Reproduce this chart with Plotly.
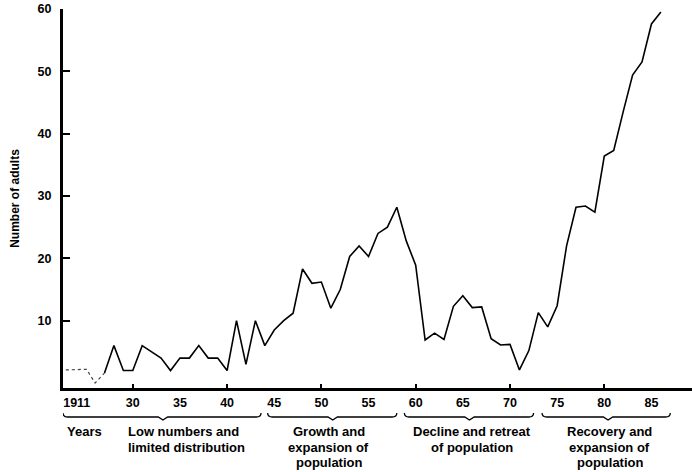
import plotly.graph_objects as go

# Adult counts per year (solid record) and the early sparse record (dotted)
years = list(range(27, 87))
adults = [1.6, 6, 2, 2, 6, 5, 4, 2, 4, 4,
          6, 4, 4, 2, 10, 3, 10, 6, 8.5, 10,
          11.2, 18.3, 16, 16.2, 12, 15, 20.3, 22, 20.3, 24,
          25, 28.2, 22.8, 18.9, 6.9, 8, 7, 12.3, 14, 12.1,
          12.2, 7.1, 6.1, 6.2, 2.1, 5.2, 11.3, 9, 12.4, 22,
          28.2, 28.4, 27.4, 36.4, 37.3, 43.5, 49.4, 51.5, 57.6, 59.5]
early_years = [22.9, 25.1, 26, 27]
early_adults = [2.1, 2.2, 0, 1.6]

# Tick labels on the year axis (the 1911 start sits at a broken-axis position)
tick_pos = [24.06, 30, 35, 40, 45, 50, 55, 60, 65, 70, 75, 80, 85]
tick_text = ["1911", "30", "35", "40", "45", "50", "55", "60", "65", "70", "75", "80", "85"]
decade_ticks = [30, 40, 50, 60, 70, 80]
y_ticks = [10, 20, 30, 40, 50, 60]

# Population phases: brace start, end and centre (years)
phases = [
    (22.6, 43.6, 33.2),
    (44.3, 58.0, 51.2),
    (58.8, 72.5, 65.7),
    (73.4, 87.0, 80.4),
]
# Phase captions: lines, x position (years), horizontal anchor
phase_labels = [
    (["Years"], 22.8, "left"),
    (["Low numbers and", "limited distribution"], 29.3, "left"),
    (["Growth and", "expansion of", "population"], 50.8, "center"),
    (["Decline and retreat", "of population"], 65.95, "center"),
    (["Recovery and", "expansion of", "population"], 80.6, "center"),
]

W, H = 692, 472
M_L, M_R, M_T, M_B = 63, 0, 9, 84
PLOT_H = H - M_T - M_B
FONT = "Liberation Sans, Arial, sans-serif"
LINE_ROWS = [431.5, 447.2, 462.9]


def paper_y(px):
    """Convert a pixel row (from the top of the page) to paper y."""
    return (H - M_B - px) / PLOT_H


fig = go.Figure()
fig.add_trace(go.Scatter(
    x=early_years, y=early_adults, mode="lines",
    line=dict(color="#444444", width=1.2, dash="dot"),
    xaxis="x2", yaxis="y", hoverinfo="skip", showlegend=False,
))
fig.add_trace(go.Scatter(
    x=years, y=adults, mode="lines",
    line=dict(color="black", width=1.6),
    showlegend=False,
))

# Curly braces marking each phase under the axis
shapes = []
for x0, x1, xm in phases:
    yb = paper_y(417)
    yu = paper_y(413)
    yd = paper_y(420)
    d = 0.5
    path = (f"M {x0},{yu} Q {x0},{yb} {x0 + d},{yb} L {xm - d},{yb} "
            f"L {xm},{yd} L {xm + d},{yb} L {x1 - d},{yb} Q {x1},{yb} {x1},{yu}")
    shapes.append(dict(type="path", path=path, xref="x", yref="paper",
                       line=dict(color="black", width=1.3)))

annotations = []
for lines, x, anchor in phase_labels:
    for row, text in zip(LINE_ROWS, lines):
        annotations.append(dict(
            text=text, x=x, y=paper_y(row), xref="x", yref="paper",
            xanchor=anchor, yanchor="middle", showarrow=False,
            font=dict(family=FONT, size=13, color="black", weight="bold"),
        ))

fig.update_layout(
    width=W, height=H,
    margin=dict(l=M_L, r=M_R, t=M_T, b=M_B),
    paper_bgcolor="white", plot_bgcolor="white",
    shapes=shapes, annotations=annotations,
    xaxis=dict(
        range=[22.6, 89.3], tickmode="array", tickvals=tick_pos, ticktext=tick_text,
        ticks="", showgrid=False, zeroline=False,
        showline=True, linecolor="black", linewidth=3,
        tickfont=dict(family=FONT, size=12.5, color="black", weight="bold"),
        ticklabelstandoff=1,
    ),
    xaxis2=dict(
        range=[22.6, 89.3], overlaying="x", matches="x", side="bottom",
        tickmode="array", tickvals=decade_ticks, ticks="inside",
        ticklen=4, tickwidth=2, tickcolor="black",
        showticklabels=False, showgrid=False, zeroline=False, showline=False,
    ),
    yaxis=dict(
        range=[-0.8, 60], tickmode="array", tickvals=y_ticks,
        ticks="inside", ticklen=7, tickwidth=2, tickcolor="black",
        showgrid=False, zeroline=False,
        showline=True, linecolor="black", linewidth=3,
        tickfont=dict(family=FONT, size=12.5, color="black", weight="bold"),
        ticklabelstandoff=6,
        title=dict(text="Number of adults", standoff=16,
                   font=dict(family=FONT, size=12, color="black", weight="bold")),
    ),
)

fig.write_html("out.html")
